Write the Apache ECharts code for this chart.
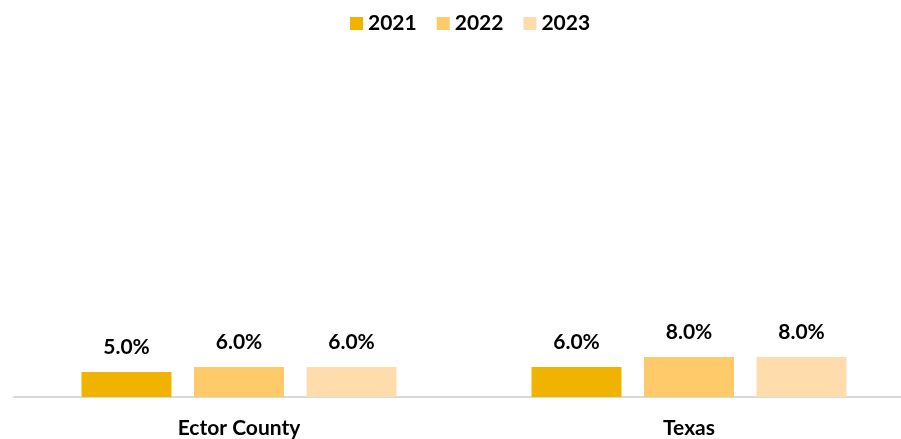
<!DOCTYPE html>
<html>
<head>
<meta charset="utf-8">
<script src="https://cdn.jsdelivr.net/npm/echarts@6/dist/echarts.min.js"></script>
<style>html,body{margin:0;padding:0;background:#fff;overflow:hidden;}#c{width:914px;height:439px;}</style>
</head>
<body>
<div id="c"></div>
<script>
const categories = ['Ector County', 'Texas'];
const seriesNames = ['2021', '2022', '2023'];
const v2021 = [5.0, 6.0];
const v2022 = [6.0, 8.0];
const v2023 = [6.0, 8.0];
const colors = ['#F0B400', '#FECA6A', '#FFDCAB'];
const values = [v2021, v2022, v2023];
const font = 'Lato, "Open Sans", sans-serif';

const chart = echarts.init(document.getElementById('c'));
chart.setOption({
  animation: false,
  color: colors,
  legend: {
    top: 8,
    left: 345,
    itemWidth: 13,
    itemHeight: 13,
    itemGap: 20,
    icon: 'rect',
    textStyle: { fontFamily: font, fontWeight: 'bold', fontSize: 21, color: '#000' },
    data: seriesNames
  },
  grid: { left: 14, right: 0, bottom: 42, top: 47, containLabel: false },
  xAxis: {
    type: 'category',
    data: categories,
    axisLine: { lineStyle: { color: '#D9D9D9', width: 2 } },
    axisTick: { show: false },
    axisLabel: { fontFamily: font, fontWeight: 'bold', fontSize: 21, color: '#000', margin: 21 }
  },
  yAxis: { type: 'value', min: 0, max: 70, show: false, splitLine: { show: false } },
  series: seriesNames.map((n, i) => ({
    name: n,
    type: 'bar',
    data: values[i],
    barWidth: 90,
    barGap: '25%',
    itemStyle: { color: colors[i] },
    label: {
      show: true, position: 'top', distance: 14,
      formatter: p => p.value.toFixed(1) + '%',
      fontFamily: font, fontWeight: 'bold', fontSize: 21, color: '#000'
    }
  }))
});
</script>
</body>
</html>
